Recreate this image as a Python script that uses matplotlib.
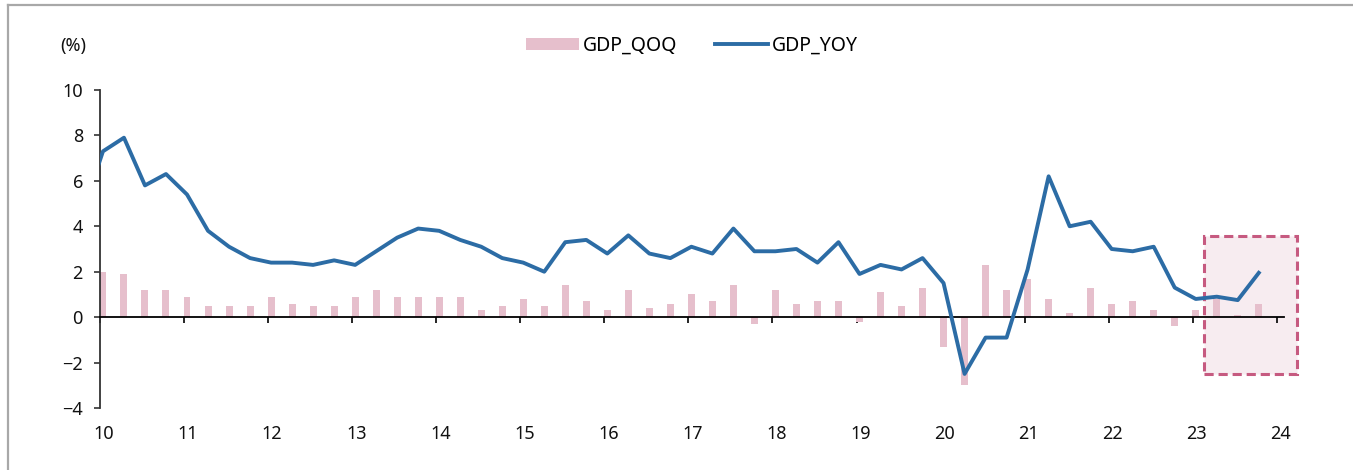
import numpy as np
import matplotlib
matplotlib.use('Agg')
import matplotlib.pyplot as plt
import matplotlib.transforms as mtransforms
from matplotlib.patches import Rectangle
from matplotlib.lines import Line2D

plt.rcParams['font.family'] = ['Noto Sans', 'DejaVu Sans']

# quarterly data, 2010Q1 .. 2023Q4
years = list(range(2010, 2024))
qoq = [2.0, 1.9, 1.2, 1.2, 0.9, 0.5, 0.5, 0.5, 0.9, 0.6, 0.5, 0.5,
       0.9, 1.2, 0.9, 0.9, 0.9, 0.9, 0.3, 0.5, 0.8, 0.5, 1.4, 0.7,
       0.3, 1.2, 0.4, 0.6, 1.0, 0.7, 1.4, -0.3, 1.2, 0.6, 0.7, 0.7,
       -0.2, 1.1, 0.5, 1.3, -1.3, -3.0, 2.3, 1.2, 1.7, 0.8, 0.2, 1.3,
       0.6, 0.7, 0.3, -0.4, 0.3, 0.8, 0.1, 0.6]
yoy = [7.3, 7.9, 5.8, 6.3, 5.4, 3.8, 3.1, 2.6, 2.4, 2.4, 2.3, 2.5,
       2.3, 2.9, 3.5, 3.9, 3.8, 3.4, 3.1, 2.6, 2.4, 2.0, 3.3, 3.4,
       2.8, 3.6, 2.8, 2.6, 3.1, 2.8, 3.9, 2.9, 2.9, 3.0, 2.4, 3.3,
       1.9, 2.3, 2.1, 2.6, 1.5, -2.5, -0.9, -0.9, 2.1, 6.2, 4.0, 4.2,
       3.0, 2.9, 3.1, 1.3, 0.8, 0.9, 0.75, 1.95]
yoy_2009q4 = 4.5  # previous point, only its clipped tail shows
xticklabels = ['10', '11', '12', '13', '14', '15', '16', '17', '18', '19',
               '20', '21', '22', '23', '24']

bar_color = '#E6BFCC'
line_color = '#2C6CA5'
box_edge = '#C65A80'
box_fill = '#F7ECF0'

# x position in "years since 2000" (e.g. 10 = 2010)
x = np.array([y - 2000 + q * 0.25 + 0.035 for y in years for q in range(4)])
x_line = np.concatenate([[x[0] - 0.25], x])
y_line = [yoy_2009q4] + yoy

fig = plt.figure(figsize=(13.53, 4.70), dpi=100)
ax = fig.add_axes([100 / 1353, 62 / 470, 1184 / 1353, 318 / 470])

# highlighted region (2023 H2 and beyond)
ax.add_patch(Rectangle((23.135, -2.51), 1.105, 6.08, facecolor=box_fill,
                       edgecolor=box_edge, lw=2.2, ls=(0, (3, 1.6)),
                       clip_on=False, zorder=1))

ax.bar(x, qoq, width=0.083, color=bar_color, zorder=2)
ax.plot(x_line, y_line, color=line_color, lw=2.8, zorder=3)

ax.set_xlim(10, 24.085)
ax.set_ylim(-4, 10)
ax.set_yticks(range(-4, 11, 2))
ax.set_yticklabels(['\u22124', '\u22122', '0', '2', '4', '6', '8', '10'])
ax.set_xticks(range(10, 25))
ax.set_xticklabels(xticklabels)

ax.spines['top'].set_visible(False)
ax.spines['right'].set_visible(False)
ax.spines['bottom'].set_position(('data', 0))
ax.spines['bottom'].set_linewidth(1.3)
ax.spines['left'].set_linewidth(1.3)
ax.spines['left'].set_color('#333333')
ax.tick_params(axis='y', direction='out', length=4.3, width=1.2,
               pad=8.0, labelsize=13, colors='#333333', labelcolor='#111111')
ax.tick_params(axis='x', direction='out', length=4.3, width=1.2,
               pad=73, labelsize=13, labelcolor='#111111')

# labels sit a little right of their ticks in the original
shift = mtransforms.ScaledTranslation(4 / 100, 0, fig.dpi_scale_trans)
for lab in ax.get_xticklabels():
    lab.set_transform(lab.get_transform() + shift)

fig.text(60 / 1353, 1 - 46 / 470, '(%)', fontsize=13, va='center',
         ha='left', color='#111111')

handles = [Rectangle((0, 0), 1, 1, facecolor=bar_color, edgecolor='none'),
           Line2D([0], [0], color=line_color, lw=2.8)]
fig.legend(handles, ['GDP_QOQ', 'GDP_YOY'], loc='center',
           bbox_to_anchor=(692 / 1353, 1 - 46 / 470), ncol=2, frameon=False,
           fontsize=14, handlelength=2.75, handletextpad=0.2,
           columnspacing=1.9, handleheight=0.6)

# frame lines of the original box (top and left)
fig.add_artist(Line2D([8 / 1353, 1], [1 - 5 / 470, 1 - 5 / 470],
                      color='#A8A8A8', lw=1.6, transform=fig.transFigure))
fig.add_artist(Line2D([8 / 1353, 8 / 1353], [0, 1 - 5 / 470],
                      color='#A8A8A8', lw=1.6, transform=fig.transFigure))

fig.savefig('out.png', dpi=100)
